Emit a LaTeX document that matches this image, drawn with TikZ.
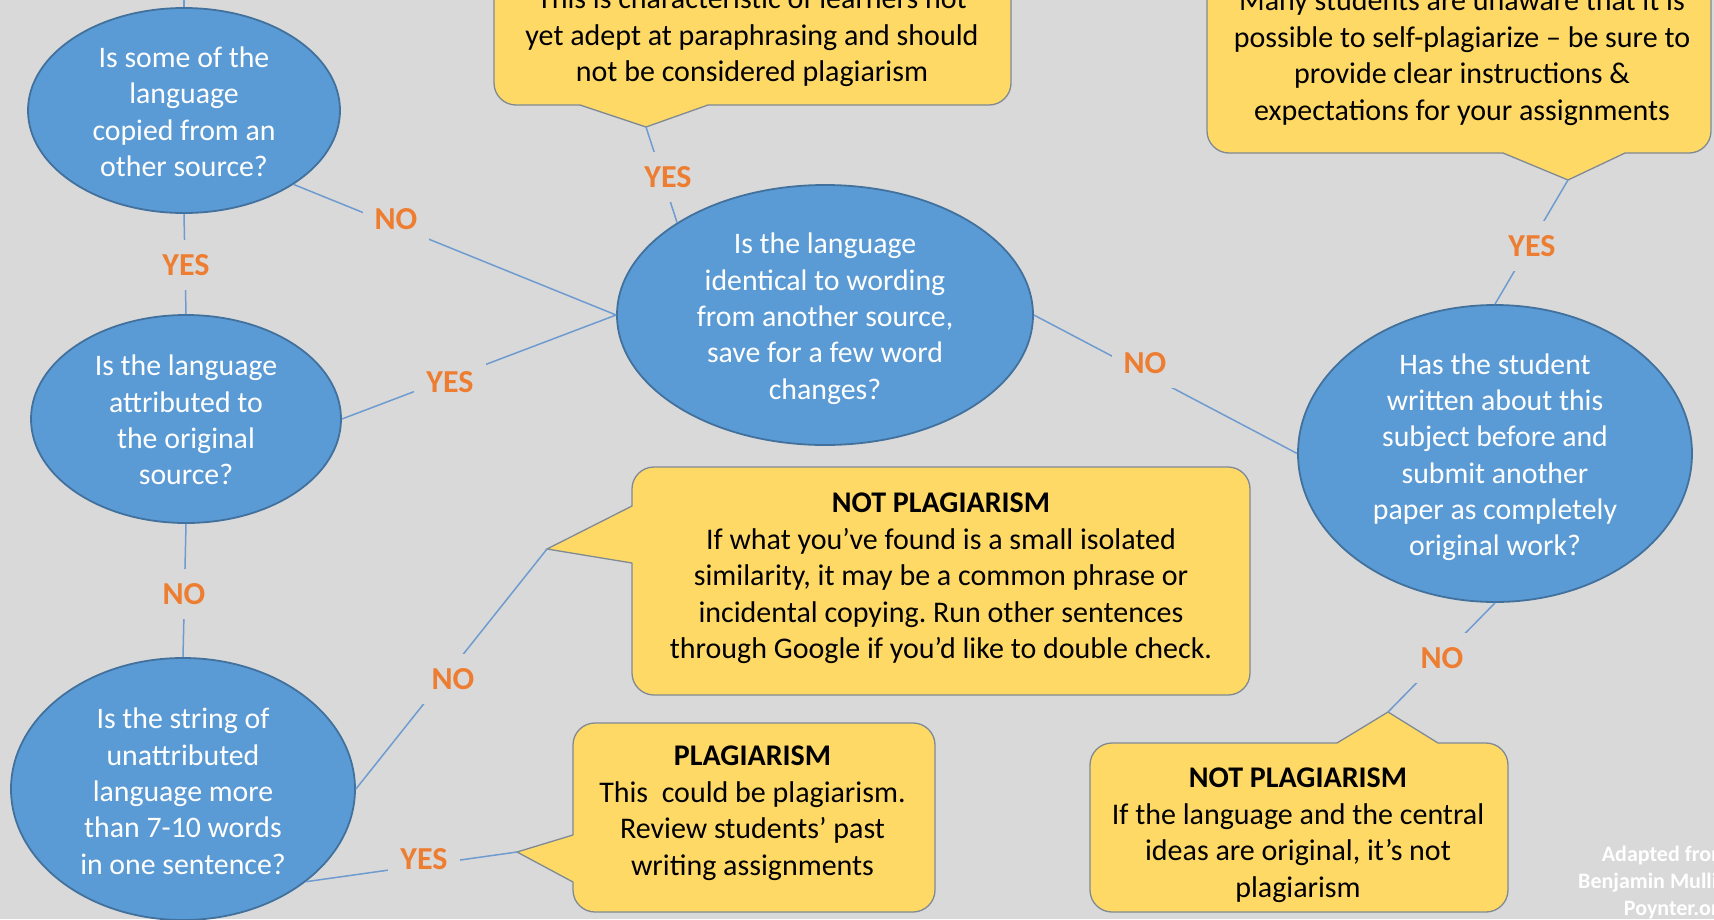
\documentclass[tikz,border=0pt]{standalone}
\usepackage{fontspec}
\setmainfont{Carlito}
\frenchspacing
\usetikzlibrary{shapes.geometric}
\definecolor{bg}{HTML}{D9D9D9}
\definecolor{qblue}{HTML}{5B9BD5}
\definecolor{qedge}{HTML}{41719C}
\definecolor{cyel}{HTML}{FFD966}
\definecolor{cedge}{HTML}{7F8A94}
\definecolor{conn}{HTML}{6E9BD0}
\definecolor{lbl}{HTML}{ED7D31}
\begin{document}
\begin{tikzpicture}[x=1pt,y=-1pt,
  qell/.style={ellipse, fill=qblue, draw=qedge, line width=1.8pt, inner sep=0pt},
  qtxt/.style={align=center, inner sep=0pt, text=white, font=\fontsize{29.8}{36.3}\selectfont,
    execute at begin node=\strut, execute at end node=\strut},
  ctxt/.style={align=center, inner sep=0pt, text=black, font=\fontsize{30}{36.5}\selectfont,
    execute at begin node=\strut, execute at end node=\strut, anchor=north},
  cbox/.style={fill=cyel, draw=cedge, line width=1.3pt, rounded corners=22pt},
  cptr/.style={draw=cedge, line width=1.3pt, line join=miter},
  link/.style={draw=conn, line width=1.5pt},
  ans/.style={text=lbl, font=\fontsize{32}{38}\selectfont\bfseries, fill=bg, inner xsep=12pt, inner ysep=14pt},
]
\fill[bg] (0,0) rectangle (1714,919);
\useasboundingbox (0,0) rectangle (1714,919);
\clip (0,0) rectangle (1714,919);

% question ellipses
\node[qell, minimum width=312pt, minimum height=205pt] (e1) at (184,110.5) {};
\node[qtxt] (e1t) at (184,117) {Is some of the\\language\\copied from an\\other source?};
\node[qell, minimum width=310pt, minimum height=208pt] (e2) at (186,419) {};
\node[qtxt] (e2t) at (186,425.5) {Is the language\\attributed to\\the original\\source?};
\node[qell, minimum width=344pt, minimum height=262pt] (e3) at (183,789) {};
\node[qtxt] (e3t) at (183,796.5) {Is the string of\\unattributed\\language more\\than 7-10 words\\in one sentence?};
\node[qell, minimum width=416pt, minimum height=260pt] (e4) at (825,315) {};
\node[qtxt] (e4t) at (825,321.5) {Is the language\\identical to wording\\from another source,\\save for a few word\\changes?};
\node[qell, minimum width=394pt, minimum height=297pt] (e5) at (1495,453.5) {};
\node[qtxt] (e5t) at (1495,460) {Has the student\\written about this\\subject before and\\submit another\\paper as completely\\original work?};

% callout 1 (top middle)
\draw[cbox] (494,-40) rectangle (1011,105);
\coordinate (c1tip) at (646,127);
\fill[cyel] (582,102) -- (580,105) -- (c1tip) -- (708,105) -- (706,102) -- cycle;
\draw[cptr] (580,105) -- (c1tip) -- (708,105);
\node[ctxt] (c1) at (752,-12.5) {This is characteristic of learners not\\yet adept at paraphrasing and should\\not be considered plagiarism};

% callout 2 (top right)
\draw[cbox] (1207,-40) rectangle (1711,153);
\coordinate (c2tip) at (1568,180);
\fill[cyel] (1505,150) -- (1503,153) -- (c2tip) -- (1625,153) -- (1623,150) -- cycle;
\draw[cptr] (1503,153) -- (c2tip) -- (1625,153);
\node[ctxt] (c2) at (1462,-10.5) {Many students are unaware that it is\\possible to self-plagiarize -- be sure to\\provide clear instructions \&\\expectations for your assignments};

% callout 3 (middle)
\draw[cbox] (632,467) rectangle (1250,695);
\coordinate (c3tip) at (547,549);
\fill[cyel] (635,508) -- (632,506) -- (c3tip) -- (632,563) -- (635,561) -- cycle;
\draw[cptr] (632,506) -- (c3tip) -- (632,563);
\node[ctxt] (c3) at (941,493) {\textbf{NOT PLAGIARISM}\\If what you’ve found is a small isolated\\similarity, it may be a common phrase or\\incidental copying. Run other sentences\\through Google if you’d like to double check.};

% callout 4 (bottom middle)
\draw[cbox] (573,723) rectangle (935,912);
\coordinate (c4tip) at (517,852);
\fill[cyel] (576,837) -- (573,835) -- (c4tip) -- (573,882) -- (576,880) -- cycle;
\draw[cptr] (573,835) -- (c4tip) -- (573,882);
\node[ctxt] (c4) at (752.5,746) {\textbf{PLAGIARISM}\\This\ \ could be plagiarism.\\Review students’ past\\writing assignments};

% callout 5 (bottom right)
\draw[cbox] (1090,743) rectangle (1508,912);
\coordinate (c5tip) at (1388,712);
\fill[cyel] (1339,746) -- (1337,743) -- (c5tip) -- (1438,743) -- (1436,746) -- cycle;
\draw[cptr] (1337,743) -- (c5tip) -- (1438,743);
\node[ctxt] (c5) at (1298,768) {\textbf{NOT PLAGIARISM}\\If the language and the central\\ideas are original, it’s not\\plagiarism};

% connectors
\coordinate (e1up) at (184,-5);
\draw[link] (e1.north) -- (e1up);
\draw[link] (e1.south) -- (e2.north);
\draw[link] (e2.south) -- (e3.north);
\draw[link] (e1.-34) -- (e4.west);
\draw[link] (e2.east) -- (e4.west);
\draw[link] (c1tip) -- (e4.148);
\draw[link] (e4.east) -- (e5.west);
\draw[link] (e5.north) -- (c2tip);
\draw[link] (e5.south) -- (c5tip);
\draw[link] (e3.east) -- (c3tip);
\draw[link] (e3.-37) -- (c4tip);

% answers
\node[ans] (a1) at (668,177) {YES};
\node[ans] (a2) at (396,219) {NO};
\node[ans] (a3) at (186,265) {YES};
\node[ans] (a4) at (450,382) {YES};
\node[ans] (a5) at (1145,363) {NO};
\node[ans] (a6) at (1532,246) {YES};
\node[ans] (a7) at (184,594) {NO};
\node[ans] (a8) at (453,679) {NO};
\node[ans] (a9) at (1442,658) {NO};
\node[ans] (a10) at (424,859) {YES};

% credit
\node[anchor=north west, align=right, text=white, inner sep=0pt,
  font=\fontsize{22}{27}\selectfont\bfseries, execute at begin node=\strut]
  (credit) at (1578,845.5) {Adapted from\\Benjamin Mullin\\Poynter.org};
\end{tikzpicture}
\end{document}
